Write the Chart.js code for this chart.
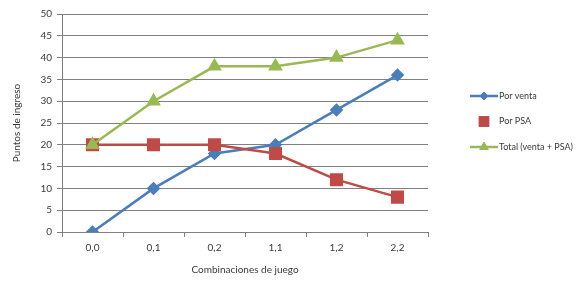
<!DOCTYPE html>
<html lang="es">
<head>
<meta charset="UTF-8">
<title>Puntos de ingreso por combinaciones de juego</title>
<script src="https://cdn.jsdelivr.net/npm/chart.js"></script>
<style>
  html, body { margin: 0; padding: 0; background: #fff; }
  .chart-wrapper { position: relative; width: 586px; height: 288px; }
</style>
</head>
<body>
<div class="chart-wrapper">
  <canvas id="ingresoChart"></canvas>
</div>
<script>
  // Datos
  const combinaciones = ["0,0", "0,1", "0,2", "1,1", "1,2", "2,2"];
  const porVenta = [0, 10, 18, 20, 28, 36];
  const porPSA = [20, 20, 20, 18, 12, 8];
  const totalVentaPSA = [20, 30, 38, 38, 40, 44];

  const textColor = '#3a3a3a';
  const gridColor = '#808080';
  const fontFamily = 'Lato, "Open Sans", sans-serif';

  // Leyenda propia: línea + marcador, como en el original
  const customLegend = {
    id: 'customLegend',
    afterDraw(chart) {
      const ctx = chart.ctx;
      const x0 = 470, lineLen = 28, y0 = 96, gap = 25.5;
      ctx.save();
      chart.data.datasets.forEach((ds, i) => {
        const y = y0 + i * gap;
        if (ds.legendLine) {
          ctx.strokeStyle = ds.borderColor;
          ctx.lineWidth = ds.borderWidth;
          ctx.beginPath();
          ctx.moveTo(x0, y);
          ctx.lineTo(x0 + lineLen, y);
          ctx.stroke();
        }
        // drawPoint usa fillStyle/strokeStyle actuales
        ctx.fillStyle = ds.backgroundColor;
        ctx.strokeStyle = ds.borderColor;
        ctx.lineWidth = 1;
        Chart.helpers.drawPoint(ctx, {
          pointStyle: ds.pointStyle,
          radius: ds.legendRadius,
          borderWidth: 1,
          rotation: 0
        }, x0 + lineLen / 2, y);
        ctx.fillStyle = textColor;
        ctx.font = '9px ' + fontFamily;
        ctx.textBaseline = 'middle';
        ctx.textAlign = 'left';
        ctx.fillText(ds.label, x0 + lineLen + 1, y);
      });
      ctx.restore();
    }
  };

  const ctx = document.getElementById('ingresoChart').getContext('2d');
  new Chart(ctx, {
    type: 'line',
    data: {
      labels: combinaciones,
      datasets: [
        {
          label: 'Por venta',
          data: porVenta,
          borderColor: '#4a7ebb',
          backgroundColor: '#4a7ebb',
          borderWidth: 2.5,
          pointStyle: 'rectRot',
          pointRadius: 5,
          legendRadius: 4,
          legendLine: true,
          order: 3
        },
        {
          label: 'Por PSA',
          data: porPSA,
          borderColor: '#be4b48',
          backgroundColor: '#be4b48',
          borderWidth: 2.5,
          pointStyle: 'rect',
          pointRadius: 7.5,
          legendRadius: 7,
          legendLine: false,
          order: 2
        },
        {
          label: 'Total (venta + PSA)',
          data: totalVentaPSA,
          borderColor: '#98b954',
          backgroundColor: '#98b954',
          borderWidth: 2.5,
          pointStyle: 'triangle',
          pointRadius: 6,
          legendRadius: 5,
          legendLine: true,
          order: 1
        }
      ]
    },
    options: {
      responsive: true,
      maintainAspectRatio: false,
      animation: false,
      layout: {
        padding: { top: 14, right: 158, left: 0, bottom: 0 }
      },
      elements: {
        line: { tension: 0 },
        point: { borderWidth: 1, hoverRadius: 6 }
      },
      scales: {
        x: {
          offset: true,
          afterFit: (scale) => { scale.height = 56; },
          grid: {
            offset: true,
            drawOnChartArea: false,
            drawTicks: true,
            tickLength: 5,
            color: gridColor
          },
          border: { color: gridColor, width: 1 },
          ticks: {
            color: textColor,
            padding: 5,
            font: { family: fontFamily, size: 10 }
          },
          title: {
            display: true,
            text: 'Combinaciones de juego',
            color: textColor,
            padding: { top: 0, bottom: 12 },
            font: { family: fontFamily, size: 10 }
          }
        },
        y: {
          min: 0,
          max: 50,
          afterFit: (scale) => { scale.width = 62; },
          grid: {
            color: gridColor,
            lineWidth: 1,
            tickLength: 5
          },
          border: { color: gridColor, width: 1 },
          ticks: {
            stepSize: 5,
            color: textColor,
            padding: 5,
            font: { family: fontFamily, size: 10 }
          },
          title: {
            display: true,
            text: 'Puntos de ingreso',
            color: textColor,
            padding: { top: 11, bottom: 0 },
            font: { family: fontFamily, size: 10 }
          }
        }
      },
      plugins: {
        legend: { display: false },
        tooltip: { enabled: true }
      }
    },
    plugins: [customLegend]
  });
</script>
</body>
</html>
